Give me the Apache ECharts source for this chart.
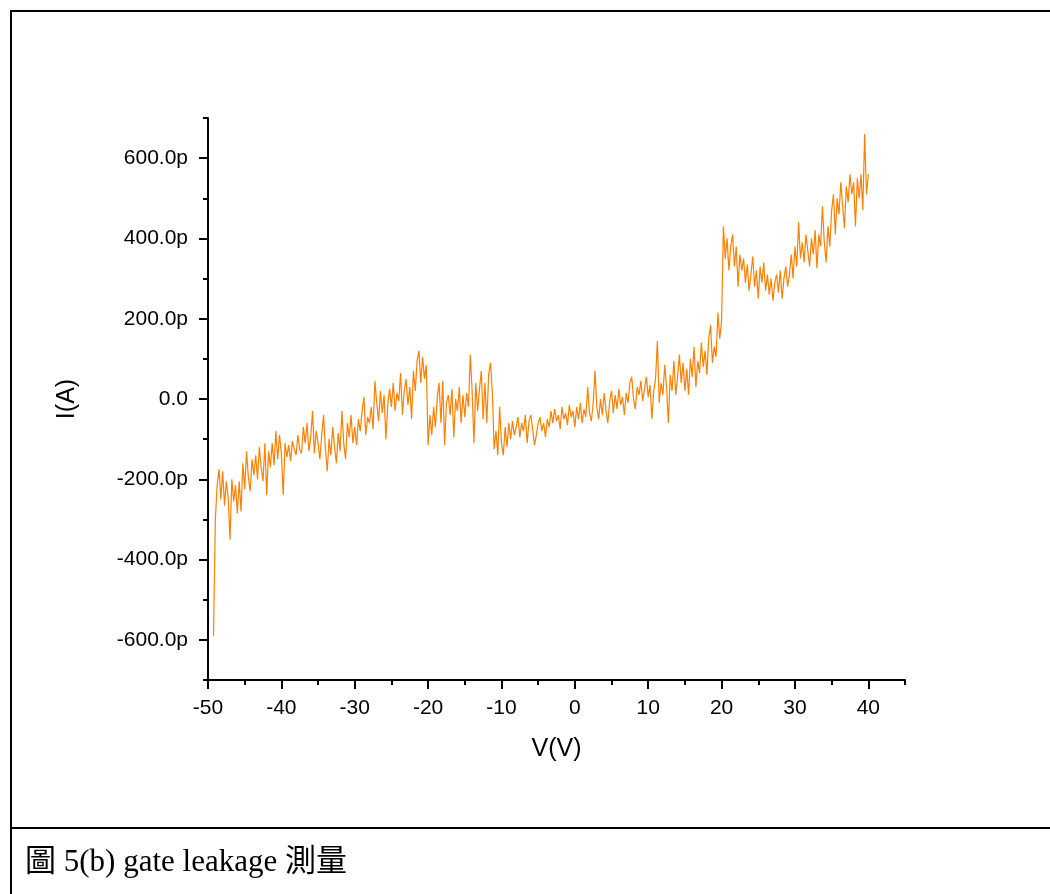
<!DOCTYPE html>
<html>
<head>
<meta charset="utf-8">
<script src="https://cdn.jsdelivr.net/npm/echarts@6/dist/echarts.min.js"></script>
<style>
  html, body { margin: 0; padding: 0; background: #fff; }
  #chart { width: 1050px; height: 894px; }
</style>
</head>
<body>
<div id="chart"></div>
<script>
// sweep: -49.25 V .. 40 V, 0.25 V per point
var voltStart = -49.25;
var voltStep = 0.25;
// gate current in pA
var currentPA = [
  -590, -300, -215, -175,   -250, -180, -265, -205,   -245, -350, -200, -255,
  -215, -285, -205, -280,   -160, -225, -130, -195,   -230, -150, -190, -140,
  -200, -120, -170, -205,   -110, -240, -130, -170,   -110, -165, -80, -150,
  -90, -135, -240, -110,    -145, -115, -155, -105,   -125, -140, -90, -125,
  -135, -70, -110, -60,     -130, -95, -30, -135,     -80, -110, -150, -90,
  -40, -125, -180, -100,    -140, -70, -120, -160,    -85, -130, -30, -110,
  -150, -60, -95, -40,      -110, -70, -115, -50,     -80, -30, 5, -90,
  -45, -60, -20, -75,       45, -10, -55, 20,         -35, 10, -100, -15,
  25, -20, 40, -30,         15, -5, 65, -40,          20, 50, -15, 30,
  -50, 70, 20, 95,          120, 40, 105, 50,         85, -115, -40, -90,
  -20, -70, 5, 40,          -60, 45, -115, -10,       10, -40, 25, -95,
  0, -30, 30, -60,          10, -45, 15, -20,         110, 20, -110, 40,
  -30, 25, 70, -50,         40, -60, 60, 90,          20, -125, -80, -140,
  -20, -110, -140, -70,     -120, -60, -100, -55,     -90, -70, -45, -95,
  -60, -80, -40, -110,      -55, -40, -75, -115,      -90, -60, -45, -80,
  -60, -95, -50, -70,       -30, -60, -25, -55,       -40, -75, -20, -50,
  -35, -65, -15, -45,       -30, -70, -20, -50,       -10, -60, -25, -45,
  30, -35, -55, -10,        70, -20, -50, 0,          -40, 15, -30, -60,
  -5, 20, -35, 10,          -25, 25, -15, 5,          -40, 15, -10, 40,
  55, 0, -25, 30,           10, 45, -5, 25,           55, 5, 35, -50,
  20, 50, 145, -10,         40, 10, 85, 30,           -60, 60, 20, 95,
  10, 55, 110, 40,          90, 20, 75, 10,           100, 55, 130, 30,
  95, 65, 140, 80,          120, 60, 150, 185,        90, 130, 105, 215,
  150, 195, 430, 350,       400, 320, 380, 410,       330, 380, 280, 360,
  320, 350, 290, 335,       270, 310, 355, 280,       320, 250, 330, 290,
  340, 270, 310, 260,       300, 245, 290, 310,       265, 320, 250, 300,
  330, 280, 310, 360,       300, 380, 330, 440,       350, 390, 340, 410,
  370, 330, 400, 360,       420, 325, 410, 380,       480, 390, 340, 430,
  380, 470, 510, 410,       500, 460, 540, 480,       425, 530, 490, 560,
  510, 540, 430, 550,       500, 560, 470, 660,       510, 560
];

var xMajorTicks = [-50, -40, -30, -20, -10, 0, 10, 20, 30, 40];
var xMinorTicks = [-45, -35, -25, -15, -5, 5, 15, 25, 35, 45];
var yMajorTicks = [-600, -400, -200, 0, 200, 400, 600];
var yMinorTicks = [-700, -500, -300, -100, 100, 300, 500, 700];

var seriesData = currentPA.map(function (v, i) {
  return [voltStart + i * voltStep, v];
});

var myChart = echarts.init(document.getElementById('chart'));

var axisFont = 'Liberation Sans, Arial, sans-serif';

var option = {
  animation: false,
  backgroundColor: '#fff',
  graphic: [
    { type: 'rect', shape: { x: 11, y: 11, width: 1100, height: 1000 },
      style: { fill: 'none', stroke: '#000', lineWidth: 2 }, silent: true },
    { type: 'line', shape: { x1: 11, y1: 828, x2: 1050, y2: 828 },
      style: { stroke: '#000', lineWidth: 2 }, silent: true },
    { type: 'text', left: 25, top: 847,
      style: { text: '圖 5(b) gate leakage 測量', fill: '#000',
        font: '31px "Liberation Serif", "Noto Sans CJK TC", serif' } }
  ],
  grid: { left: 208, right: 145, top: 118, bottom: 214 },
  xAxis: [
    {
      type: 'value', min: -50, max: 45,
      name: 'V(V)', nameLocation: 'middle', nameGap: 57,
      nameTextStyle: { fontSize: 25, fontFamily: axisFont, color: '#000' },
      axisLine: { onZero: false, lineStyle: { color: '#000', width: 2 } },
      axisTick: { customValues: xMajorTicks, length: 9, lineStyle: { color: '#000', width: 2 } },
      axisLabel: { customValues: xMajorTicks, margin: 18, fontSize: 21, fontFamily: axisFont, color: '#000' },
      splitLine: { show: false }
    },
    {
      type: 'value', min: -50, max: 45, position: 'bottom',
      axisLine: { show: false, onZero: false },
      axisTick: { customValues: xMinorTicks, length: 5, lineStyle: { color: '#000', width: 2 } },
      axisLabel: { show: false },
      splitLine: { show: false }
    }
  ],
  yAxis: [
    {
      type: 'value', min: -700, max: 700,
      name: 'I(A)', nameLocation: 'middle', nameGap: 128, nameRotate: 90,
      nameTextStyle: { fontSize: 25, fontFamily: axisFont, color: '#000' },
      axisLine: { onZero: false, lineStyle: { color: '#000', width: 2 } },
      axisTick: { customValues: yMajorTicks, length: 9, lineStyle: { color: '#000', width: 2 } },
      axisLabel: {
        customValues: yMajorTicks, margin: 20, fontSize: 21, fontFamily: axisFont, color: '#000',
        formatter: function (v) { return v === 0 ? '0.0' : v.toFixed(1) + 'p'; }
      },
      splitLine: { show: false }
    },
    {
      type: 'value', min: -700, max: 700, position: 'left',
      axisLine: { show: false, onZero: false },
      axisTick: { customValues: yMinorTicks, length: 5, lineStyle: { color: '#000', width: 2 } },
      axisLabel: { show: false },
      splitLine: { show: false }
    }
  ],
  series: [
    {
      type: 'line',
      data: seriesData,
      showSymbol: false,
      lineStyle: { color: '#FF8000', width: 1.2 },
      itemStyle: { color: '#FF8000' }
    }
  ]
};
myChart.setOption(option);
</script>
</body>
</html>
